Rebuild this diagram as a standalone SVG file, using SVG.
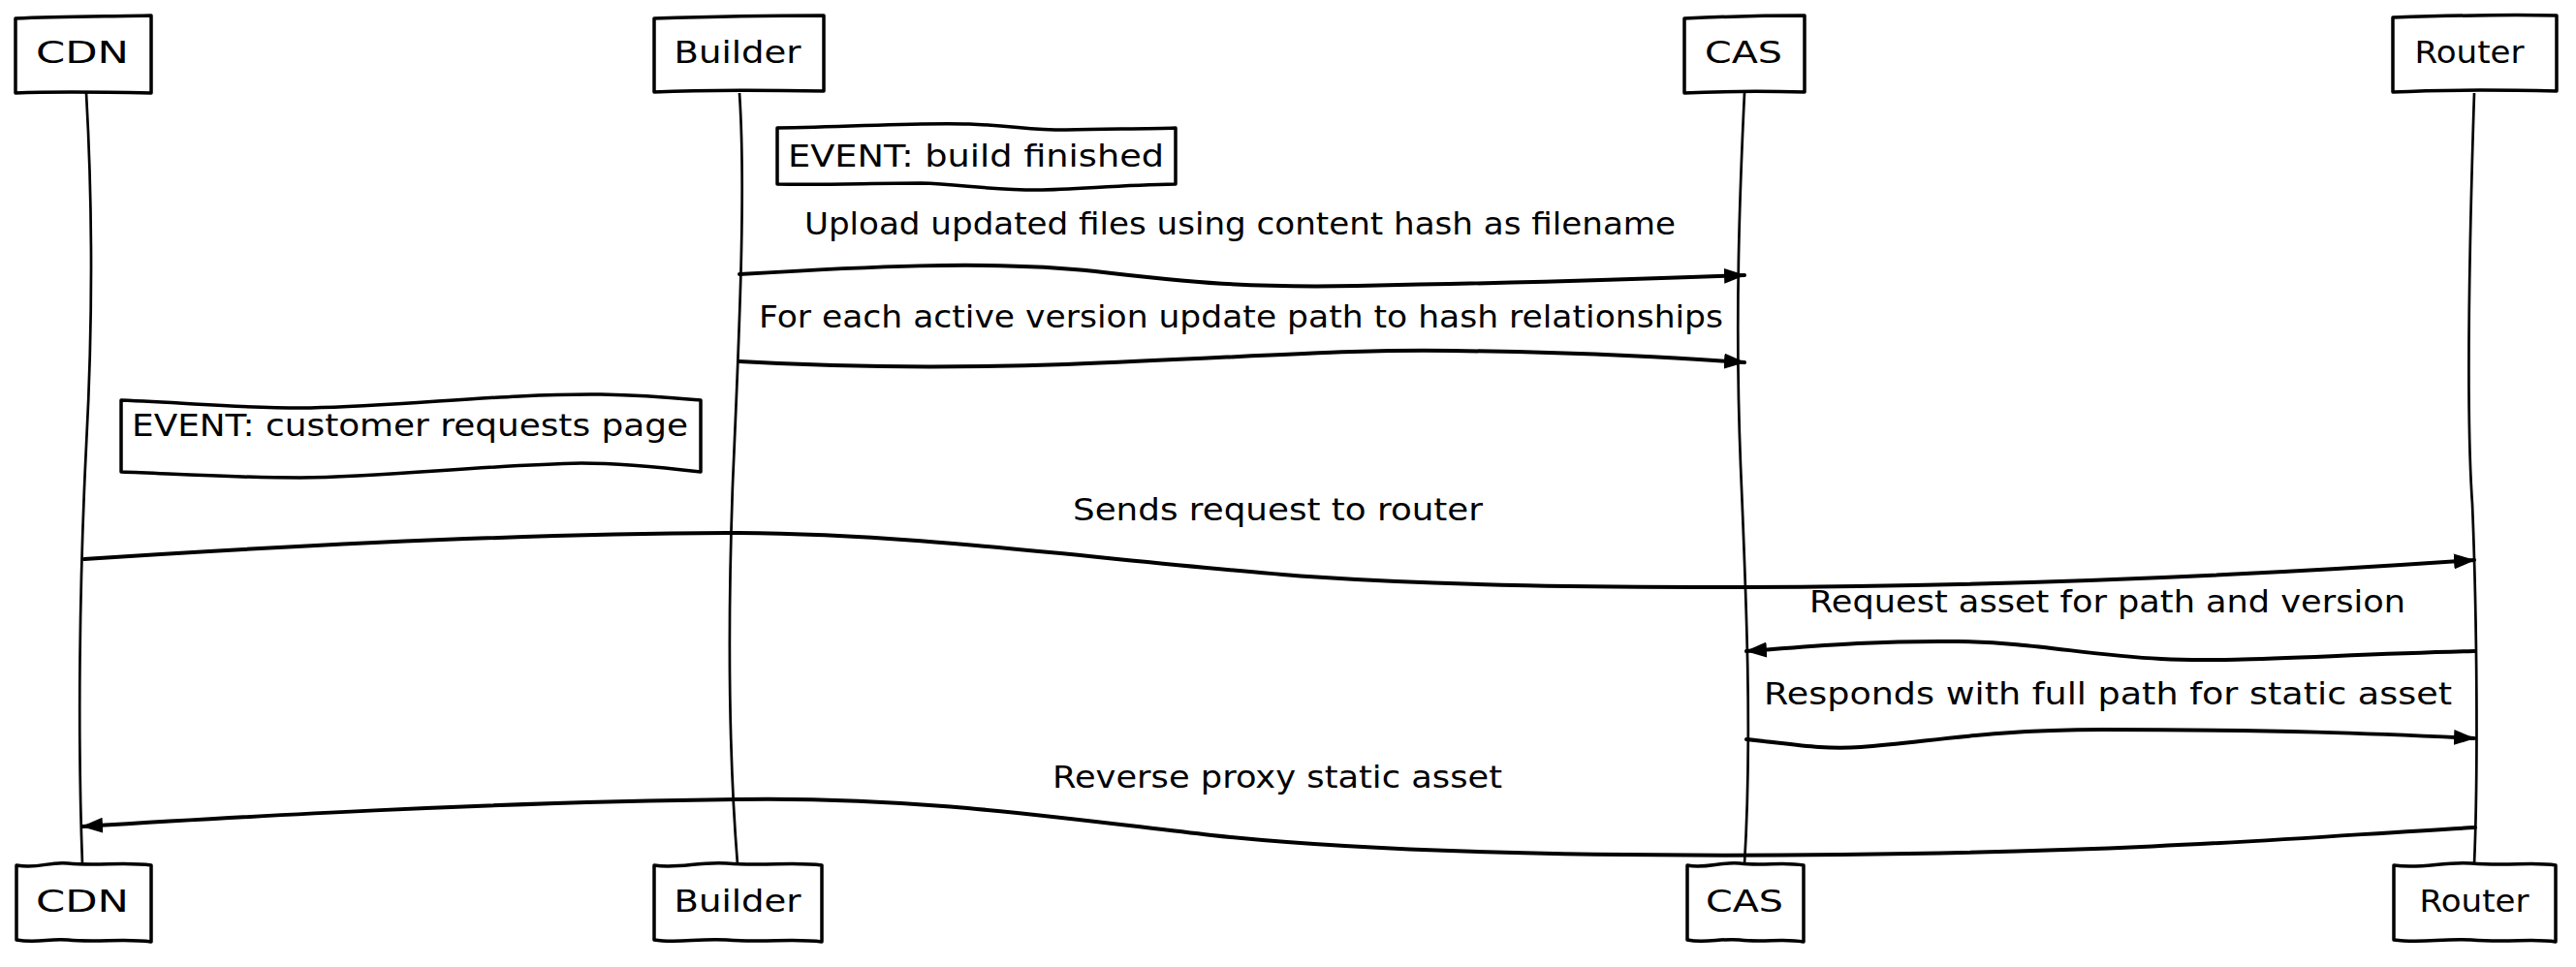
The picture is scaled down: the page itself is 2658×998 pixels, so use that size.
<svg xmlns="http://www.w3.org/2000/svg" width="2658" height="998" viewBox="0 0 2658 998">
<style>
.t{font-family:"DejaVu Sans","Liberation Sans",sans-serif;font-size:32px;fill:#000}
.c{text-anchor:middle}
.box{fill:#fff;stroke:#000;stroke-width:3.5;stroke-linejoin:round}
.life{fill:none;stroke:#000;stroke-width:2.7}
.msg{fill:none;stroke:#000;stroke-width:4;stroke-linecap:round}
</style>
<defs>
<marker id="ah" viewBox="0 0 22 16" refX="21" refY="8" markerWidth="22" markerHeight="16" markerUnits="userSpaceOnUse" orient="auto">
<path d="M0,0 L22,8 L0,16 z" fill="#000"/>
</marker>
</defs>
<rect width="2658" height="998" fill="#fff"/>
<g id="lifelines">
<path class="life" d="M 89 96 C 96 220, 96 330, 89 460 C 82 600, 80 760, 85 892"/>
<path class="life" d="M 763 96 C 770 200, 762 360, 756 500 C 751 640, 752 780, 761 892"/>
<path class="life" d="M 1800 96 C 1795 200, 1790 330, 1796 480 C 1802 620, 1808 760, 1800 892"/>
<path class="life" d="M 2553 96 C 2548 250, 2544 420, 2551 520 C 2556 640, 2557 800, 2553 892"/>
</g>
<g id="connectors">
<path class="msg" marker-end="url(#ah)" d="M 763 283 C 880 276, 1020 268, 1130 280 C 1230 292, 1290 297, 1400 295 C 1560 292, 1700 288, 1800 284"/>
<path class="msg" marker-end="url(#ah)" d="M 763 373 C 850 378, 950 381, 1100 376 C 1300 368, 1400 360, 1500 362 C 1650 364, 1740 370, 1800 374"/>
<path class="msg" marker-end="url(#ah)" d="M 87 577 C 300 563, 550 551, 750 550 C 950 550, 1150 580, 1350 595 C 1500 605, 1650 606, 1800 606 C 2100 605, 2350 592, 2553 578"/>
<path class="msg" marker-end="url(#ah)" d="M 2553 672 C 2400 676, 2300 684, 2230 680 C 2150 676, 2100 663, 2020 662 C 1920 661, 1860 668, 1802 672"/>
<path class="msg" marker-end="url(#ah)" d="M 1802 763 C 1850 768, 1880 774, 1920 771 C 1990 766, 2050 753, 2170 753 C 2350 753, 2450 757, 2553 762"/>
<path class="msg" marker-end="url(#ah)" d="M 2554 854 C 2400 862, 2250 878, 1900 882 C 1600 885, 1400 878, 1250 862 C 1100 845, 950 822, 760 825 C 500 828, 250 843, 85 853"/>
<text class="t" x="830" y="242" textLength="899" lengthAdjust="spacingAndGlyphs">Upload updated files using content hash as filename</text>
<text class="t" x="783" y="338" textLength="995" lengthAdjust="spacingAndGlyphs">For each active version update path to hash relationships</text>
<text class="t" x="1107" y="537" textLength="423" lengthAdjust="spacingAndGlyphs">Sends request to router</text>
<text class="t" x="1867" y="632" textLength="615" lengthAdjust="spacingAndGlyphs">Request asset for path and version</text>
<text class="t" x="1820" y="727" textLength="710" lengthAdjust="spacingAndGlyphs">Responds with full path for static asset</text>
<text class="t" x="1086" y="813" textLength="464" lengthAdjust="spacingAndGlyphs">Reverse proxy static asset</text>
</g>
<g id="note-build">
<path class="box" d="M 802 132 C 880 131, 950 126, 1000 128 C 1050 130, 1060 134, 1100 134 C 1150 133, 1190 133, 1213 132 L 1213 190 C 1150 191, 1110 196, 1070 196 C 1020 196, 990 190, 950 189 C 900 189, 850 191, 802 190 Z"/>
<text class="t" x="813" y="172" textLength="388" lengthAdjust="spacingAndGlyphs">EVENT: build finished</text>
</g>
<g id="note-customer">
<path class="box" d="M 125 413 C 200 416, 260 422, 320 421 C 420 419, 520 406, 620 407 C 670 408, 700 411, 723 413 L 723 487 C 680 482, 640 478, 600 478 C 500 480, 400 492, 310 493 C 240 493, 180 489, 125 487 Z"/>
<text class="t" x="136" y="450" textLength="574" lengthAdjust="spacingAndGlyphs">EVENT: customer requests page</text>
</g>
<g id="cdn-top">
<path class="box" d="M 16 19 C 60 17, 110 17, 156 16 L 156 96 C 110 95, 60 94, 16 96 Z"/>
<text class="t c" x="85" y="65" textLength="96" lengthAdjust="spacingAndGlyphs">CDN</text>
</g>
<g id="builder-top">
<path class="box" d="M 675 19 C 740 17, 800 16, 850 16 L 850 94 C 800 93, 740 92, 675 95 Z"/>
<text class="t c" x="761" y="65" textLength="131" lengthAdjust="spacingAndGlyphs">Builder</text>
</g>
<g id="cas-top">
<path class="box" d="M 1738 19 C 1780 17, 1820 16, 1862 16 L 1862 95 C 1820 94, 1780 94, 1738 96 Z"/>
<text class="t c" x="1799" y="65" textLength="80" lengthAdjust="spacingAndGlyphs">CAS</text>
</g>
<g id="router-top">
<path class="box" d="M 2469 18 C 2530 16, 2590 15, 2638 16 L 2638 94 C 2590 93, 2530 92, 2469 95 Z"/>
<text class="t c" x="2548" y="65" textLength="113" lengthAdjust="spacingAndGlyphs">Router</text>
</g>
<g id="cdn-bottom">
<path class="box" d="M 17 893 C 40 897, 50 889, 70 891 C 100 894, 130 889, 156 893 L 156 972 C 130 968, 100 973, 70 970 C 50 968, 40 974, 17 970 Z"/>
<text class="t c" x="85" y="941" textLength="96" lengthAdjust="spacingAndGlyphs">CDN</text>
</g>
<g id="builder-bottom">
<path class="box" d="M 675 893 C 700 897, 720 889, 750 891 C 790 894, 820 889, 848 893 L 848 972 C 820 968, 790 973, 750 970 C 720 968, 700 974, 675 970 Z"/>
<text class="t c" x="761" y="941" textLength="131" lengthAdjust="spacingAndGlyphs">Builder</text>
</g>
<g id="cas-bottom">
<path class="box" d="M 1741 893 C 1760 897, 1775 889, 1795 891 C 1820 894, 1840 889, 1861 893 L 1861 972 C 1840 968, 1820 973, 1795 970 C 1775 968, 1760 974, 1741 970 Z"/>
<text class="t c" x="1800" y="941" textLength="80" lengthAdjust="spacingAndGlyphs">CAS</text>
</g>
<g id="router-bottom">
<path class="box" d="M 2470 893 C 2500 897, 2520 889, 2550 891 C 2590 894, 2615 889, 2637 893 L 2637 972 C 2615 968, 2590 973, 2550 970 C 2520 968, 2500 974, 2470 970 Z"/>
<text class="t c" x="2553" y="941" textLength="113" lengthAdjust="spacingAndGlyphs">Router</text>
</g>
</svg>
